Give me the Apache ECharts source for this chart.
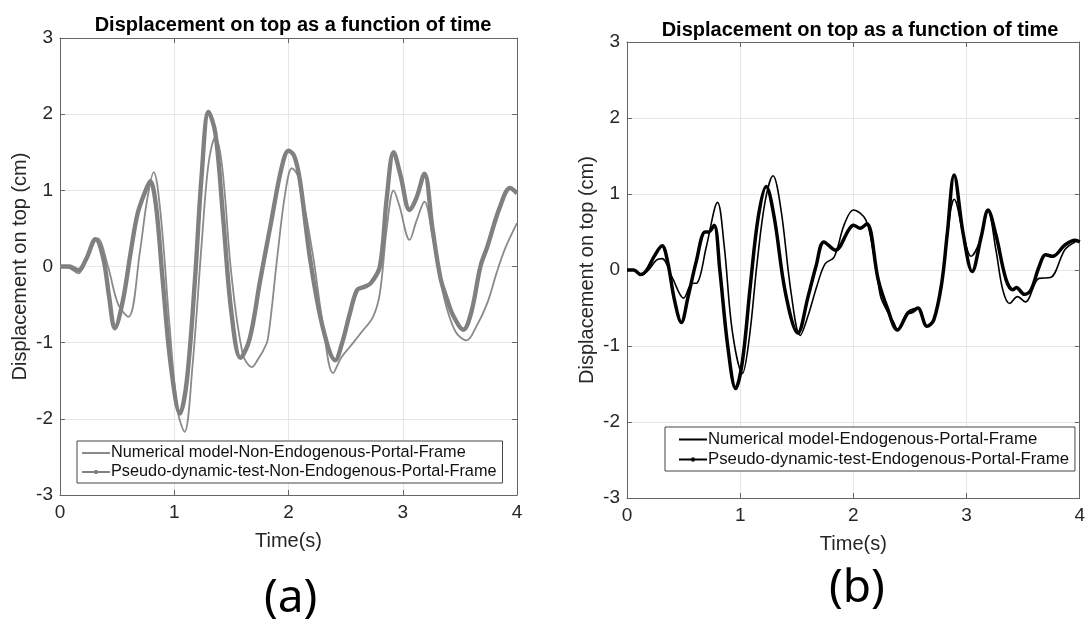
<!DOCTYPE html>
<html>
<head>
<meta charset="utf-8">
<script src="https://cdn.jsdelivr.net/npm/echarts@6/dist/echarts.min.js"></script>
<style>
  html, body { margin: 0; padding: 0; background: #fff; }
  #chart { width: 1088px; height: 642px; }
</style>
</head>
<body>
<div id="chart"></div>
<script>
// (a) non-endogenous portal frame
var aTimeNum = [0, 0.08, 0.16, 0.24, 0.33, 0.42, 0.51, 0.6, 0.7, 0.76, 0.82, 0.88, 0.96, 1.03, 1.09, 1.16, 1.24, 1.3, 1.36, 1.42, 1.5, 1.6, 1.68, 1.74, 1.78, 1.82, 1.9, 1.97, 2.03, 2.08, 2.13, 2.22, 2.3, 2.39, 2.46, 2.54, 2.64, 2.74, 2.8, 2.86, 2.92, 2.97, 3.06, 3.12, 3.19, 3.26, 3.36, 3.46, 3.56, 3.64, 3.74, 3.82, 3.9, 4.0];
var aNum = [0, -0.02, -0.09, 0.12, 0.37, 0.0, -0.5, -0.66, 0.2, 0.85, 1.24, 0.7, -0.8, -1.9, -2.17, -1.3, 0.3, 1.35, 1.7, 1.3, -0.1, -1.15, -1.32, -1.2, -1.1, -0.95, 0.1, 0.95, 1.29, 1.2, 0.87, 0.09, -0.75, -1.4, -1.2, -1.05, -0.86, -0.66, -0.35, 0.5, 1.0, 0.8, 0.35, 0.6, 0.85, 0.4, -0.4, -0.85, -0.97, -0.8, -0.48, -0.09, 0.25, 0.57];
var aTimePdt = [0, 0.08, 0.16, 0.23, 0.31, 0.38, 0.43, 0.48, 0.55, 0.62, 0.68, 0.75, 0.79, 0.84, 0.9, 0.97, 1.05, 1.11, 1.18, 1.24, 1.3, 1.36, 1.43, 1.5, 1.58, 1.66, 1.75, 1.85, 1.94, 2.0, 2.05, 2.1, 2.19, 2.3, 2.41, 2.47, 2.54, 2.6, 2.66, 2.72, 2.8, 2.86, 2.92, 2.98, 3.06, 3.12, 3.19, 3.26, 3.33, 3.39, 3.44, 3.53, 3.6, 3.68, 3.74, 3.85, 3.94, 4.0];
var aPdt = [0, 0.0, -0.05, 0.1, 0.36, 0.1, -0.4, -0.81, -0.45, 0.2, 0.7, 1.0, 1.12, 0.8, -0.2, -1.3, -1.93, -1.5, -0.2, 1.2, 2.03, 1.75, 0.6, -0.6, -1.2, -0.95, -0.2, 0.6, 1.3, 1.52, 1.45, 1.13, 0.09, -0.8, -1.23, -1.0, -0.6, -0.31, -0.27, -0.22, 0.0, 0.9, 1.5, 1.2, 0.74, 0.9, 1.22, 0.5, -0.15, -0.44, -0.64, -0.83, -0.6, 0.0, 0.26, 0.78, 1.03, 0.96];

// (b) endogenous portal frame
var bTimeNum = [0, 0.06, 0.13, 0.19, 0.26, 0.31, 0.4, 0.5, 0.57, 0.62, 0.7, 0.8, 0.86, 0.93, 1.02, 1.08, 1.15, 1.22, 1.29, 1.36, 1.45, 1.53, 1.6, 1.68, 1.75, 1.83, 1.92, 2.0, 2.11, 2.18, 2.22, 2.25, 2.36, 2.39, 2.48, 2.57, 2.65, 2.71, 2.78, 2.86, 2.89, 2.97, 3.04, 3.11, 3.19, 3.26, 3.32, 3.38, 3.45, 3.52, 3.64, 3.74, 3.87, 3.96, 4.0];
var bNum = [0, 0.0, -0.06, 0.0, 0.13, 0.15, -0.1, -0.37, -0.18, -0.17, 0.3, 0.89, 0.3, -0.8, -1.36, -0.9, 0.1, 0.9, 1.24, 0.8, -0.3, -0.86, -0.6, -0.2, 0.08, 0.17, 0.6, 0.79, 0.66, 0.2, -0.18, -0.39, -0.7, -0.79, -0.55, -0.5, -0.74, -0.66, -0.18, 0.79, 0.93, 0.48, 0.18, 0.35, 0.77, 0.26, -0.26, -0.44, -0.35, -0.42, -0.11, -0.1, 0.27, 0.37, 0.38];
var bTimePdt = [0, 0.06, 0.12, 0.175, 0.24, 0.31, 0.36, 0.42, 0.48, 0.54, 0.61, 0.69, 0.72, 0.77, 0.82, 0.89, 0.96, 1.02, 1.09, 1.16, 1.23, 1.3, 1.4, 1.51, 1.6, 1.67, 1.74, 1.84, 1.96, 2.0, 2.06, 2.12, 2.22, 2.3, 2.39, 2.48, 2.52, 2.57, 2.65, 2.71, 2.78, 2.83, 2.89, 2.97, 3.05, 3.13, 3.19, 3.26, 3.35, 3.41, 3.44, 3.51, 3.57, 3.64, 3.7, 3.76, 3.87, 3.96, 4.0];
var bPdt = [0, 0.0, -0.06, 0.0, 0.18, 0.32, 0.1, -0.4, -0.69, -0.35, 0.1, 0.5, 0.5, 0.59, 0.0, -1.0, -1.56, -1.2, -0.2, 0.7, 1.1, 0.7, -0.3, -0.83, -0.35, 0.05, 0.37, 0.26, 0.53, 0.59, 0.55, 0.61, -0.13, -0.5, -0.79, -0.57, -0.55, -0.5, -0.74, -0.66, -0.18, 0.48, 1.25, 0.48, -0.02, 0.44, 0.79, 0.46, -0.13, -0.26, -0.23, -0.32, -0.26, 0.04, 0.2, 0.18, 0.33, 0.39, 0.37];

var titleText = 'Displacement on top as a function of time';
var yName = 'Displacement on top (cm)';
var xName = 'Time(s)';
var namesA = ['Numerical model-Non-Endogenous-Portal-Frame', 'Pseudo-dynamic-test-Non-Endogenous-Portal-Frame'];
var namesB = ['Numerical model-Endogenous-Portal-Frame', 'Pseudo-dynamic-test-Endogenous-Portal-Frame'];

function zip(ts, vs) {
    return ts.map(function (t, i) { return [t, vs[i]]; });
}

var font = 'Liberation Sans, Arial, sans-serif';
var iconPlain = 'path://M0,0 L28,0 L28,2 L0,2 Z';
var iconDot = 'path://M0,1 L28,1 L28,3 L0,3 Z M12.5,0 L15.5,0 L15.5,4 L12.5,4 Z';

function xAxes(gi) {
    return [{
        gridIndex: gi, type: 'value', min: 0, max: 4, interval: 1,
        name: xName, nameLocation: 'middle', nameGap: 36,
        nameTextStyle: { fontSize: 20, color: '#262626', fontFamily: font },
        axisLine: { show: true, onZero: false, lineStyle: { color: '#666' } },
        axisTick: { inside: true, length: 5, lineStyle: { color: '#666' } },
        axisLabel: { fontSize: 19, color: '#262626', margin: 8, fontFamily: font },
        splitLine: { show: true, lineStyle: { color: '#e6e6e6' } }
    }, {
        gridIndex: gi, type: 'value', min: 0, max: 4, interval: 1, position: 'top',
        axisLine: { show: true, onZero: false, lineStyle: { color: '#666' } },
        axisTick: { inside: true, length: 5, lineStyle: { color: '#666' } },
        axisLabel: { show: false }, splitLine: { show: false }
    }];
}

function yAxes(gi) {
    return [{
        gridIndex: gi, type: 'value', min: -3, max: 3, interval: 1,
        name: yName, nameLocation: 'middle', nameGap: 30,
        nameTextStyle: { fontSize: 20, color: '#262626', fontFamily: font },
        axisLine: { show: true, onZero: false, lineStyle: { color: '#666' } },
        axisTick: { inside: true, length: 5, lineStyle: { color: '#666' } },
        axisLabel: { fontSize: 19, color: '#262626', margin: 7, fontFamily: font },
        splitLine: { show: true, lineStyle: { color: '#e6e6e6' } }
    }, {
        gridIndex: gi, type: 'value', min: -3, max: 3, interval: 1, position: 'right',
        axisLine: { show: true, onZero: false, lineStyle: { color: '#666' } },
        axisTick: { inside: true, length: 5, lineStyle: { color: '#666' } },
        axisLabel: { show: false }, splitLine: { show: false }
    }];
}

function line(name, data, xi, yi, color, width) {
    return {
        name: name, type: 'line', data: data,
        xAxisIndex: xi, yAxisIndex: yi,
        smooth: 0.35,
        showSymbol: false, symbol: 'none',
        lineStyle: { color: color, width: width, join: 'round' },
        itemStyle: { color: color },
        animation: false
    };
}

function legendBox(names, left, top, padLeft, fs) {
    return {
        data: [{ name: names[0], icon: iconPlain }, { name: names[1], icon: iconDot }],
        left: left, top: top, orient: 'vertical',
        itemWidth: 28, itemHeight: 10, itemGap: 3,
        padding: [4, 6, 3, padLeft],
        borderColor: '#444', borderWidth: 1, borderRadius: 0,
        backgroundColor: '#fff',
        textStyle: { fontSize: fs, color: '#111', fontFamily: font, padding: [0, 0, 0, -4] },
        selectedMode: false
    };
}

var chart = echarts.init(document.getElementById('chart'));
chart.setOption({
    backgroundColor: '#fff',
    title: [
        { text: titleText, left: 288, top: 10, textAlign: 'center',
          textStyle: { fontSize: 20, fontWeight: 'bold', color: '#000', fontFamily: font } },
        { text: titleText, left: 855, top: 15, textAlign: 'center',
          textStyle: { fontSize: 20, fontWeight: 'bold', color: '#000', fontFamily: font } }
    ],
    grid: [
        { left: 60, top: 38, width: 457, height: 457 },
        { left: 627, top: 42, width: 456, height: 456 }
    ],
    xAxis: xAxes(0).concat(xAxes(1)),
    yAxis: yAxes(0).concat(yAxes(1)),
    legend: [legendBox(namesA, 77, 441, 5, 16.3), legendBox(namesB, 665, 427, 14, 16.8)],
    series: [
        line(namesA[0], zip(aTimeNum, aNum), 0, 0, '#8a8a8a', 1.8),
        line(namesA[1], zip(aTimePdt, aPdt), 0, 0, '#808080', 4.4),
        line(namesB[0], zip(bTimeNum, bNum), 2, 2, '#000', 1.6),
        line(namesB[1], zip(bTimePdt, bPdt), 2, 2, '#000', 3.5)
    ],
    graphic: [
        { type: 'text', left: 264, top: 576, style: { text: '(a)', fontSize: 46, fill: '#000', fontFamily: 'Noto Sans, sans-serif' } },
        { type: 'text', left: 829, top: 566, style: { text: '(b)', fontSize: 46, fill: '#000', fontFamily: 'Noto Sans, sans-serif' } }
    ]
});
</script>
</body>
</html>
